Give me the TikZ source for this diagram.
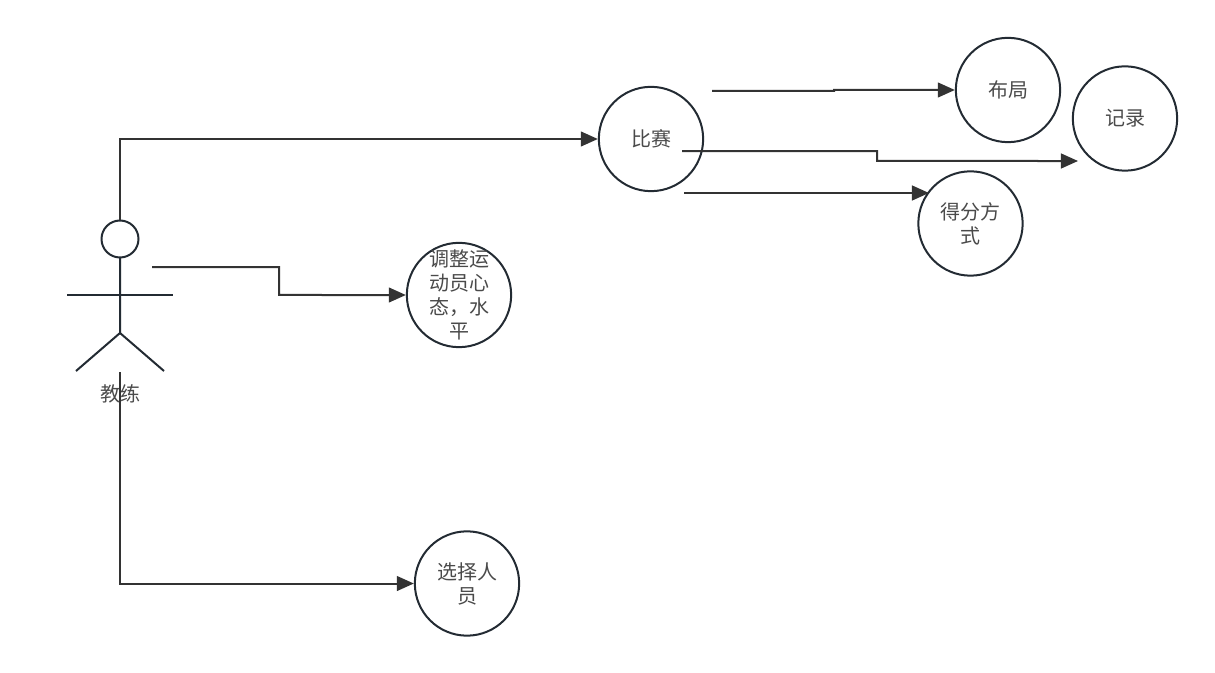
\documentclass[tikz,border=0pt]{standalone}
\usepackage{fontspec}
\newfontfamily\cjk{Noto Sans CJK SC}
\usetikzlibrary{arrows.meta}
\definecolor{inkc}{HTML}{232B33}
\definecolor{linec}{HTML}{333333}
\definecolor{textc}{HTML}{4A4A4A}
\tikzset{
	usecase/.style={draw=inkc, circle, minimum size=2.75cm, line width=1.5pt, inner sep=-14pt, align=center, text width=2.1cm, font=\cjk\fontsize{15}{18}\selectfont, text=textc},
	conn/.style={line width=1.5pt, draw=linec, -{Triangle[length=4.5mm,width=3.9mm]}},
	figure/.style={line width=1.5pt, draw=inkc}
}
\begin{document}
\begin{tikzpicture}[x=1pt,y=-1pt,scale=0.75]
		\useasboundingbox (0,0) rectangle (1215,673);

		\node[usecase] (match) at (651,139) {比赛};
		\node[usecase] (layout) at (1008,90) {布局};
		\node[usecase] (record) at (1125,118.5) {记录};
		\node[usecase] (score) at (970.5,223.5) {得分方\\式};
		\node[usecase] (adjust) at (459,295) {调整运\\动员心\\态，水\\平};
		\node[usecase] (select) at (467,583.5) {选择人\\员};

		\node[figure, circle, minimum size=1.3cm, inner sep=0pt, scale=0.75] (head) at (120,239) {};
		\coordinate (hip) at (120,333);
		\coordinate (armL) at (67,295);
		\coordinate (armR) at (173,295);
		\coordinate (legL) at (76,371);
		\coordinate (legR) at (164,371);
		\draw[figure] (head) -- (hip);
		\draw[figure] (armL) -- (armR);
		\draw[figure] (legL) -- (hip) -- (legR);
		\node[font=\cjk\fontsize{15}{18}\selectfont, text=textc] (coach) at (120,394) {教练};

		\coordinate (s1) at (120,220);
		\coordinate (s2) at (152,267);
		\coordinate (s3) at (120,372);
		\coordinate (s4) at (712,91);
		\coordinate (s5) at (682,151);
		\coordinate (s6) at (684,193);
		\coordinate (e5) at (1078,161);
		\coordinate (e6) at (929,193);

		\draw[conn] (s1) |- (match.west);
		\draw[conn] (s2) -| (279,295) -- (adjust.west);
		\draw[conn] (s3) |- (select.west);
		\draw[conn] (s4) -- (834,91) -- (834,90) -- (layout.west);
		\draw[conn] (s5) -| (877,161) -- (e5);
		\draw[conn] (s6) -- (e6);

	\end{tikzpicture}
\end{document}
